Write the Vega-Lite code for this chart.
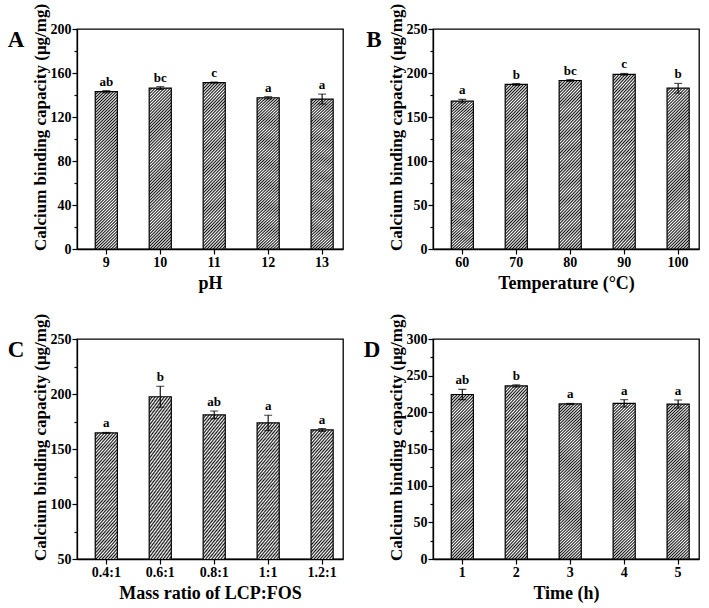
{
  "$schema": "https://vega.github.io/schema/vega-lite/v6.json",
  "background": "white",
  "padding": {"left": 7, "top": 2, "right": 3, "bottom": 3},
  "columns": 2,
  "spacing": {"row": 19, "column": 19},
  "datasets": {
    "d": [
      {"panel": "A", "x": "9", "mean": 143, "lower": 142, "upper": 144, "label": "ab"},
      {"panel": "A", "x": "10", "mean": 146.3, "lower": 145, "upper": 147.6, "label": "bc"},
      {"panel": "A", "x": "11", "mean": 151.3, "lower": 150.8, "upper": 151.8, "label": "c"},
      {"panel": "A", "x": "12", "mean": 137.5, "lower": 136.5, "upper": 138.5, "label": "a"},
      {"panel": "A", "x": "13", "mean": 136.3, "lower": 131.8, "upper": 140.8, "label": "a"},
      {"panel": "B", "x": "60", "mean": 168, "lower": 166, "upper": 170, "label": "a"},
      {"panel": "B", "x": "70", "mean": 187, "lower": 186, "upper": 188, "label": "b"},
      {"panel": "B", "x": "80", "mean": 191.5, "lower": 190.5, "upper": 192.5, "label": "bc"},
      {"panel": "B", "x": "90", "mean": 198.5, "lower": 197.5, "upper": 199.5, "label": "c"},
      {"panel": "B", "x": "100", "mean": 182.7, "lower": 177.2, "upper": 188.2, "label": "b"},
      {"panel": "C", "x": "0.4:1", "mean": 164.6, "lower": 164.1, "upper": 165.1, "label": "a"},
      {"panel": "C", "x": "0.6:1", "mean": 197.5, "lower": 188, "upper": 207, "label": "b"},
      {"panel": "C", "x": "0.8:1", "mean": 181, "lower": 177.5, "upper": 184.5, "label": "ab"},
      {"panel": "C", "x": "1:1", "mean": 173.7, "lower": 166.7, "upper": 180.7, "label": "a"},
      {"panel": "C", "x": "1.2:1", "mean": 167.3, "lower": 166, "upper": 168.6, "label": "a"},
      {"panel": "D", "x": "1", "mean": 224.3, "lower": 217.3, "upper": 231.3, "label": "ab"},
      {"panel": "D", "x": "2", "mean": 236, "lower": 234.5, "upper": 237.5, "label": "b"},
      {"panel": "D", "x": "3", "mean": 211.5, "lower": 210.8, "upper": 212.2, "label": "a"},
      {"panel": "D", "x": "4", "mean": 212.3, "lower": 207.3, "upper": 217.3, "label": "a"},
      {"panel": "D", "x": "5", "mean": 211.3, "lower": 205.8, "upper": 216.8, "label": "a"}
    ]
  },
  "concat": [
    {
      "width": 266, "height": 220,
      "title": {"text": "A"},
      "data": {"name": "d"},
      "transform": [{"filter": "datum.panel === 'A'"}],
      "encoding": {"x": {"field": "x", "type": "nominal", "sort": null, "scale": {"paddingInner": 0.59, "paddingOuter": 0.26, "align": 0.65}, "axis": {"title": "pH"}}},
      "layer": [
        {"mark": {"type": "bar", "clip": true}, "encoding": {"y": {"field": "mean", "type": "quantitative", "title": "Calcium binding capacity (μg/mg)", "scale": {"domain": [0, 200], "nice": false}, "axis": {"values": [0, 20, 40, 60, 80, 100, 120, 140, 160, 180, 200], "tickCount": 40, "labelOverlap": false, "labelExpr": "datum.value % 40 === 0 ? datum.label : ''", "tickSize": {"condition": {"test": "datum.value % 40 === 0", "value": 5}, "value": 3}}}}},
        {"mark": {"type": "errorbar", "ticks": {"size": 8, "color": "black", "thickness": 1.1}, "rule": {"color": "black", "strokeWidth": 1.1}}, "encoding": {"y": {"field": "lower", "type": "quantitative", "title": "Calcium binding capacity (μg/mg)"}, "y2": {"field": "upper"}}},
        {"mark": {"type": "text", "baseline": "bottom", "dy": -2}, "encoding": {"y": {"field": "upper", "type": "quantitative", "title": "Calcium binding capacity (μg/mg)"}, "text": {"field": "label"}}}
      ]
    },
    {
      "width": 266, "height": 220,
      "title": {"text": "B"},
      "data": {"name": "d"},
      "transform": [{"filter": "datum.panel === 'B'"}],
      "encoding": {"x": {"field": "x", "type": "nominal", "sort": null, "scale": {"paddingInner": 0.59, "paddingOuter": 0.26, "align": 0.65}, "axis": {"title": "Temperature (°C)"}}},
      "layer": [
        {"mark": {"type": "bar", "clip": true}, "encoding": {"y": {"field": "mean", "type": "quantitative", "title": "Calcium binding capacity (μg/mg)", "scale": {"domain": [0, 250], "nice": false}, "axis": {"values": [0, 25, 50, 75, 100, 125, 150, 175, 200, 225, 250], "tickCount": 40, "labelOverlap": false, "labelExpr": "datum.value % 50 === 0 ? datum.label : ''", "tickSize": {"condition": {"test": "datum.value % 50 === 0", "value": 5}, "value": 3}}}}},
        {"mark": {"type": "errorbar", "ticks": {"size": 8, "color": "black", "thickness": 1.1}, "rule": {"color": "black", "strokeWidth": 1.1}}, "encoding": {"y": {"field": "lower", "type": "quantitative", "title": "Calcium binding capacity (μg/mg)"}, "y2": {"field": "upper"}}},
        {"mark": {"type": "text", "baseline": "bottom", "dy": -2}, "encoding": {"y": {"field": "upper", "type": "quantitative", "title": "Calcium binding capacity (μg/mg)"}, "text": {"field": "label"}}}
      ]
    },
    {
      "width": 266, "height": 220,
      "title": {"text": "C"},
      "data": {"name": "d"},
      "transform": [{"filter": "datum.panel === 'C'"}],
      "encoding": {"x": {"field": "x", "type": "nominal", "sort": null, "scale": {"paddingInner": 0.59, "paddingOuter": 0.26, "align": 0.65}, "axis": {"title": "Mass ratio of LCP:FOS"}}},
      "layer": [
        {"mark": {"type": "bar", "clip": true}, "encoding": {"y": {"field": "mean", "type": "quantitative", "title": "Calcium binding capacity (μg/mg)", "scale": {"domain": [50, 250], "nice": false, "zero": false}, "axis": {"values": [50, 75, 100, 125, 150, 175, 200, 225, 250], "tickCount": 40, "labelOverlap": false, "labelExpr": "datum.value % 50 === 0 ? datum.label : ''", "tickSize": {"condition": {"test": "datum.value % 50 === 0", "value": 5}, "value": 3}}}}},
        {"mark": {"type": "errorbar", "ticks": {"size": 8, "color": "black", "thickness": 1.1}, "rule": {"color": "black", "strokeWidth": 1.1}}, "encoding": {"y": {"field": "lower", "type": "quantitative", "title": "Calcium binding capacity (μg/mg)"}, "y2": {"field": "upper"}}},
        {"mark": {"type": "text", "baseline": "bottom", "dy": -2}, "encoding": {"y": {"field": "upper", "type": "quantitative", "title": "Calcium binding capacity (μg/mg)"}, "text": {"field": "label"}}}
      ]
    },
    {
      "width": 266, "height": 220,
      "title": {"text": "D"},
      "data": {"name": "d"},
      "transform": [{"filter": "datum.panel === 'D'"}],
      "encoding": {"x": {"field": "x", "type": "nominal", "sort": null, "scale": {"paddingInner": 0.59, "paddingOuter": 0.26, "align": 0.65}, "axis": {"title": "Time (h)"}}},
      "layer": [
        {"mark": {"type": "bar", "clip": true}, "encoding": {"y": {"field": "mean", "type": "quantitative", "title": "Calcium binding capacity (μg/mg)", "scale": {"domain": [0, 300], "nice": false}, "axis": {"values": [0, 25, 50, 75, 100, 125, 150, 175, 200, 225, 250, 275, 300], "tickCount": 40, "labelOverlap": false, "labelExpr": "datum.value % 50 === 0 ? datum.label : ''", "tickSize": {"condition": {"test": "datum.value % 50 === 0", "value": 5}, "value": 3}}}}},
        {"mark": {"type": "errorbar", "ticks": {"size": 8, "color": "black", "thickness": 1.1}, "rule": {"color": "black", "strokeWidth": 1.1}}, "encoding": {"y": {"field": "lower", "type": "quantitative", "title": "Calcium binding capacity (μg/mg)"}, "y2": {"field": "upper"}}},
        {"mark": {"type": "text", "baseline": "bottom", "dy": -2}, "encoding": {"y": {"field": "upper", "type": "quantitative", "title": "Calcium binding capacity (μg/mg)"}, "text": {"field": "label"}}}
      ]
    }
  ],
  "config": {
    "font": "Liberation Serif",
    "view": {"stroke": "black", "strokeWidth": 1.3},
    "title": {"orient": "left", "anchor": "end", "angle": 0, "frame": "group", "baseline": "top", "align": "right", "font": "Liberation Serif", "fontSize": 23, "fontWeight": "bold", "color": "black", "offset": -10},
    "axis": {"grid": false, "domainColor": "black", "domainWidth": 1.3, "tickColor": "black", "tickWidth": 1.2, "labelColor": "black", "titleColor": "black", "labelFont": "Liberation Serif", "titleFont": "Liberation Serif", "labelFontWeight": "bold", "titleFontWeight": "bold", "labelFontSize": 14, "titleFontSize": 18, "labelPadding": 1},
    "axisX": {"labelAngle": 0, "tickSize": 5, "titlePadding": 5},
    "axisY": {"titleFontSize": 17, "titlePadding": 1, "labelPadding": 1, "labelOverlap": false, "titleY": 98},
    "text": {"font": "Liberation Serif", "fontWeight": "bold", "fontSize": 13, "color": "black"},
    "bar": {"stroke": "black", "strokeWidth": 1.2, "fill": {"gradient": "linear", "x1": 0, "y1": 0, "x2": 0.1535, "y2": 1.1164, "stops": [
      {"offset": 0, "color": "#111"}, {"offset": 0.0083, "color": "#fff"}, {"offset": 0.0167, "color": "#111"}, {"offset": 0.025, "color": "#fff"}, {"offset": 0.0333, "color": "#111"}, {"offset": 0.0417, "color": "#fff"}, {"offset": 0.05, "color": "#111"}, {"offset": 0.0583, "color": "#fff"}, {"offset": 0.0667, "color": "#111"}, {"offset": 0.075, "color": "#fff"}, {"offset": 0.0833, "color": "#111"}, {"offset": 0.0917, "color": "#fff"},
      {"offset": 0.1, "color": "#111"}, {"offset": 0.1083, "color": "#fff"}, {"offset": 0.1167, "color": "#111"}, {"offset": 0.125, "color": "#fff"}, {"offset": 0.1333, "color": "#111"}, {"offset": 0.1417, "color": "#fff"}, {"offset": 0.15, "color": "#111"}, {"offset": 0.1583, "color": "#fff"}, {"offset": 0.1667, "color": "#111"}, {"offset": 0.175, "color": "#fff"}, {"offset": 0.1833, "color": "#111"}, {"offset": 0.1917, "color": "#fff"},
      {"offset": 0.2, "color": "#111"}, {"offset": 0.2083, "color": "#fff"}, {"offset": 0.2167, "color": "#111"}, {"offset": 0.225, "color": "#fff"}, {"offset": 0.2333, "color": "#111"}, {"offset": 0.2417, "color": "#fff"}, {"offset": 0.25, "color": "#111"}, {"offset": 0.2583, "color": "#fff"}, {"offset": 0.2667, "color": "#111"}, {"offset": 0.275, "color": "#fff"}, {"offset": 0.2833, "color": "#111"}, {"offset": 0.2917, "color": "#fff"},
      {"offset": 0.3, "color": "#111"}, {"offset": 0.3083, "color": "#fff"}, {"offset": 0.3167, "color": "#111"}, {"offset": 0.325, "color": "#fff"}, {"offset": 0.3333, "color": "#111"}, {"offset": 0.3417, "color": "#fff"}, {"offset": 0.35, "color": "#111"}, {"offset": 0.3583, "color": "#fff"}, {"offset": 0.3667, "color": "#111"}, {"offset": 0.375, "color": "#fff"}, {"offset": 0.3833, "color": "#111"}, {"offset": 0.3917, "color": "#fff"},
      {"offset": 0.4, "color": "#111"}, {"offset": 0.4083, "color": "#fff"}, {"offset": 0.4167, "color": "#111"}, {"offset": 0.425, "color": "#fff"}, {"offset": 0.4333, "color": "#111"}, {"offset": 0.4417, "color": "#fff"}, {"offset": 0.45, "color": "#111"}, {"offset": 0.4583, "color": "#fff"}, {"offset": 0.4667, "color": "#111"}, {"offset": 0.475, "color": "#fff"}, {"offset": 0.4833, "color": "#111"}, {"offset": 0.4917, "color": "#fff"},
      {"offset": 0.5, "color": "#111"}, {"offset": 0.5083, "color": "#fff"}, {"offset": 0.5167, "color": "#111"}, {"offset": 0.525, "color": "#fff"}, {"offset": 0.5333, "color": "#111"}, {"offset": 0.5417, "color": "#fff"}, {"offset": 0.55, "color": "#111"}, {"offset": 0.5583, "color": "#fff"}, {"offset": 0.5667, "color": "#111"}, {"offset": 0.575, "color": "#fff"}, {"offset": 0.5833, "color": "#111"}, {"offset": 0.5917, "color": "#fff"},
      {"offset": 0.6, "color": "#111"}, {"offset": 0.6083, "color": "#fff"}, {"offset": 0.6167, "color": "#111"}, {"offset": 0.625, "color": "#fff"}, {"offset": 0.6333, "color": "#111"}, {"offset": 0.6417, "color": "#fff"}, {"offset": 0.65, "color": "#111"}, {"offset": 0.6583, "color": "#fff"}, {"offset": 0.6667, "color": "#111"}, {"offset": 0.675, "color": "#fff"}, {"offset": 0.6833, "color": "#111"}, {"offset": 0.6917, "color": "#fff"},
      {"offset": 0.7, "color": "#111"}, {"offset": 0.7083, "color": "#fff"}, {"offset": 0.7167, "color": "#111"}, {"offset": 0.725, "color": "#fff"}, {"offset": 0.7333, "color": "#111"}, {"offset": 0.7417, "color": "#fff"}, {"offset": 0.75, "color": "#111"}, {"offset": 0.7583, "color": "#fff"}, {"offset": 0.7667, "color": "#111"}, {"offset": 0.775, "color": "#fff"}, {"offset": 0.7833, "color": "#111"}, {"offset": 0.7917, "color": "#fff"},
      {"offset": 0.8, "color": "#111"}, {"offset": 0.8083, "color": "#fff"}, {"offset": 0.8167, "color": "#111"}, {"offset": 0.825, "color": "#fff"}, {"offset": 0.8333, "color": "#111"}, {"offset": 0.8417, "color": "#fff"}, {"offset": 0.85, "color": "#111"}, {"offset": 0.8583, "color": "#fff"}, {"offset": 0.8667, "color": "#111"}, {"offset": 0.875, "color": "#fff"}, {"offset": 0.8833, "color": "#111"}, {"offset": 0.8917, "color": "#fff"},
      {"offset": 0.9, "color": "#111"}, {"offset": 0.9083, "color": "#fff"}, {"offset": 0.9167, "color": "#111"}, {"offset": 0.925, "color": "#fff"}, {"offset": 0.9333, "color": "#111"}, {"offset": 0.9417, "color": "#fff"}, {"offset": 0.95, "color": "#111"}, {"offset": 0.9583, "color": "#fff"}, {"offset": 0.9667, "color": "#111"}, {"offset": 0.975, "color": "#fff"}, {"offset": 0.9833, "color": "#111"}, {"offset": 0.9917, "color": "#fff"},
      {"offset": 1, "color": "#111"}
    ]}}
  }
}
